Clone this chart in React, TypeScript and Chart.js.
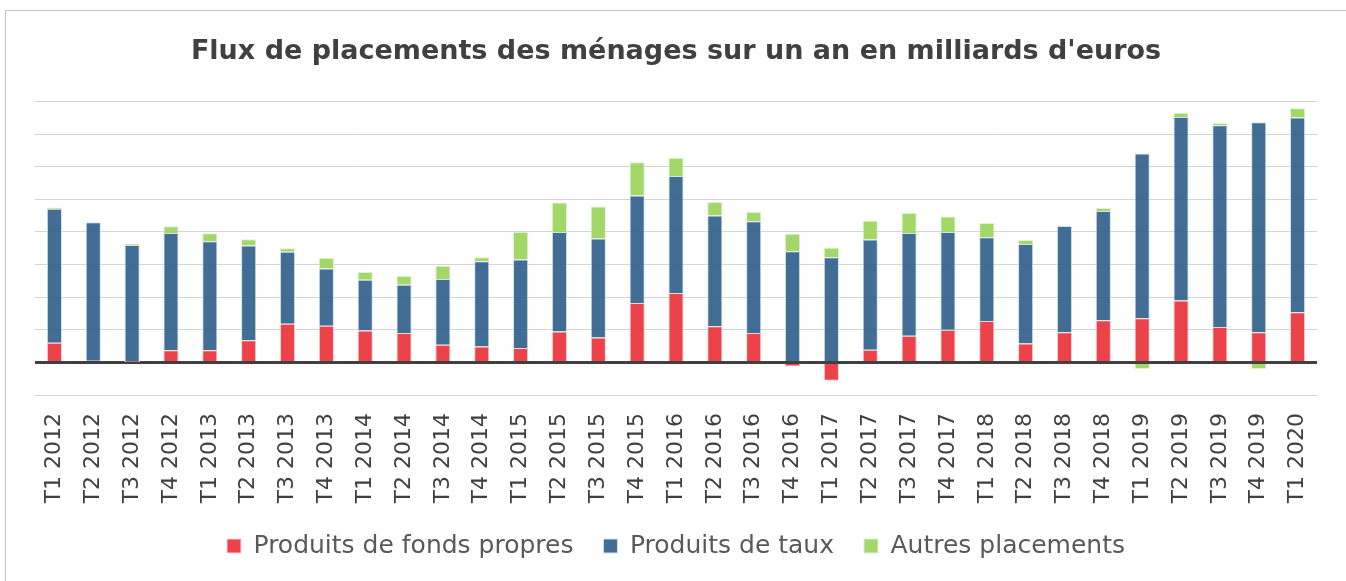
import React, { useEffect, useRef } from "react";
import { Chart, registerables } from "chart.js";

Chart.register(...registerables);

const categories = [
  "T1 2012", "T2 2012", "T3 2012", "T4 2012",
  "T1 2013", "T2 2013", "T3 2013", "T4 2013",
  "T1 2014", "T2 2014", "T3 2014", "T4 2014",
  "T1 2015", "T2 2015", "T3 2015", "T4 2015",
  "T1 2016", "T2 2016", "T3 2016", "T4 2016",
  "T1 2017", "T2 2017", "T3 2017", "T4 2017",
  "T1 2018", "T2 2018", "T3 2018", "T4 2018",
  "T1 2019", "T2 2019", "T3 2019", "T4 2019",
  "T1 2020",
];

const fondsPropres = [
  12, 1, 0.3, 7.4, 7.4, 13.5, 23.7, 22.5, 19.6, 18, 10.8, 9.8, 8.8, 19, 15.3, 36.4,
  42.5, 22.1, 18, -2.5, -11.2, 7.8, 16.4, 20, 25.4, 11.5, 18.4, 25.8, 27, 38, 21.7,
  18.4, 30.7,
];

const produitsTaux = [
  82.2, 84.9, 71.7, 71.9, 66.8, 58.1, 44.2, 35, 31.1, 29.6, 40.3, 52.2, 54.2, 61,
  60.6, 65.9, 71.8, 67.9, 68.5, 68.1, 64.4, 67.5, 62.9, 60, 51.3, 61.1, 65.2, 67,
  101, 112.5, 123.7, 128.8, 119.4,
];

const autresPlacements = [
  0.8, -1, 0.5, 4.1, 4.9, 3.9, 2.0, 6.5, 4.7, 5.4, 8.2, 2.4, 17, 18, 19.6, 20.4,
  11.1, 8.4, 5.7, 10.8, 5.9, 11.6, 12.3, 9.4, 8.8, 2.5, -0.8, 1.9, -4.1, 2.5, 1.4,
  -4.1, 5.7,
];

const seriesNames = ["Produits de fonds propres", "Produits de taux", "Autres placements"];
const titleText = "Flux de placements des ménages sur un an en milliards d'euros";

const FONT = "'DejaVu Sans', sans-serif";

export default function App() {
  const canvasRef = useRef<HTMLCanvasElement | null>(null);

  useEffect(() => {
    if (!canvasRef.current) return;
    const chart = new Chart(canvasRef.current, {
      type: "bar",
      data: {
        labels: categories,
        datasets: [
          {
            label: seriesNames[0],
            data: fondsPropres,
            backgroundColor: "rgba(234,50,58,0.92)",
            borderColor: "#f2d6d8",
            borderWidth: 1,
          },
          {
            label: seriesNames[1],
            data: produitsTaux,
            backgroundColor: "rgba(52,98,140,0.93)",
            borderColor: "#d5e0ec",
            borderWidth: 1,
          },
          {
            label: seriesNames[2],
            data: autresPlacements,
            backgroundColor: "rgba(155,212,90,0.92)",
            borderColor: "#e0f0d0",
            borderWidth: 1,
          },
        ],
      },
      options: {
        responsive: false,
        animation: false,
        maintainAspectRatio: false,
        layout: { padding: { left: 35, right: 29, top: 0, bottom: 12.5 } },
        datasets: {
          bar: { categoryPercentage: 1, barPercentage: 0.39 },
        },
        plugins: {
          title: {
            display: true,
            text: titleText,
            color: "#404040",
            font: { family: FONT, size: 27, weight: "bold", lineHeight: 1.2 },
            padding: { top: 36, bottom: 33 },
          },
          legend: {
            display: true,
            position: "bottom",
            labels: {
              color: "#595959",
              font: { family: FONT, size: 25 },
              boxWidth: 14,
              boxHeight: 14,
              padding: 30,
            },
          },
          tooltip: { enabled: false },
        },
        scales: {
          x: {
            stacked: true,
            grid: { display: false, drawTicks: false },
            border: { display: false },
            ticks: {
              color: "#404040",
              font: { family: FONT, size: 22 },
              maxRotation: 90,
              minRotation: 90,
              padding: 18,
              autoSkip: false,
            },
            afterFit: (scale: any) => {
              scale.height = 108.5;
            },
          },
          y: {
            stacked: true,
            min: -20,
            max: 160,
            border: { display: false },
            ticks: { display: false, stepSize: 20 },
            grid: {
              drawTicks: false,
              color: (ctx: any) => (ctx.tick && ctx.tick.value === 0 ? "#404040" : "#d4d4d4"),
              lineWidth: (ctx: any) => (ctx.tick && ctx.tick.value === 0 ? 3 : 1),
            },
            afterFit: (scale: any) => {
              scale.width = 0;
            },
          },
        },
      },
    });
    return () => chart.destroy();
  }, []);

  return (
    <div
      style={{
        position: "absolute",
        left: 0,
        top: 0,
        width: 1346,
        height: 581,
        overflow: "hidden",
        background: "#ffffff",
      }}
    >
      <div
        style={{
          position: "absolute",
          left: 5,
          top: 10,
          width: 1400,
          height: 700,
          borderLeft: "1px solid #c4c4c4",
          borderTop: "1px solid #c4c4c4",
          pointerEvents: "none",
        }}
      />
      <canvas
        ref={canvasRef}
        width={1346}
        height={581}
        style={{ position: "absolute", left: 0, top: 0, width: 1346, height: 581 }}
      />
    </div>
  );
}
